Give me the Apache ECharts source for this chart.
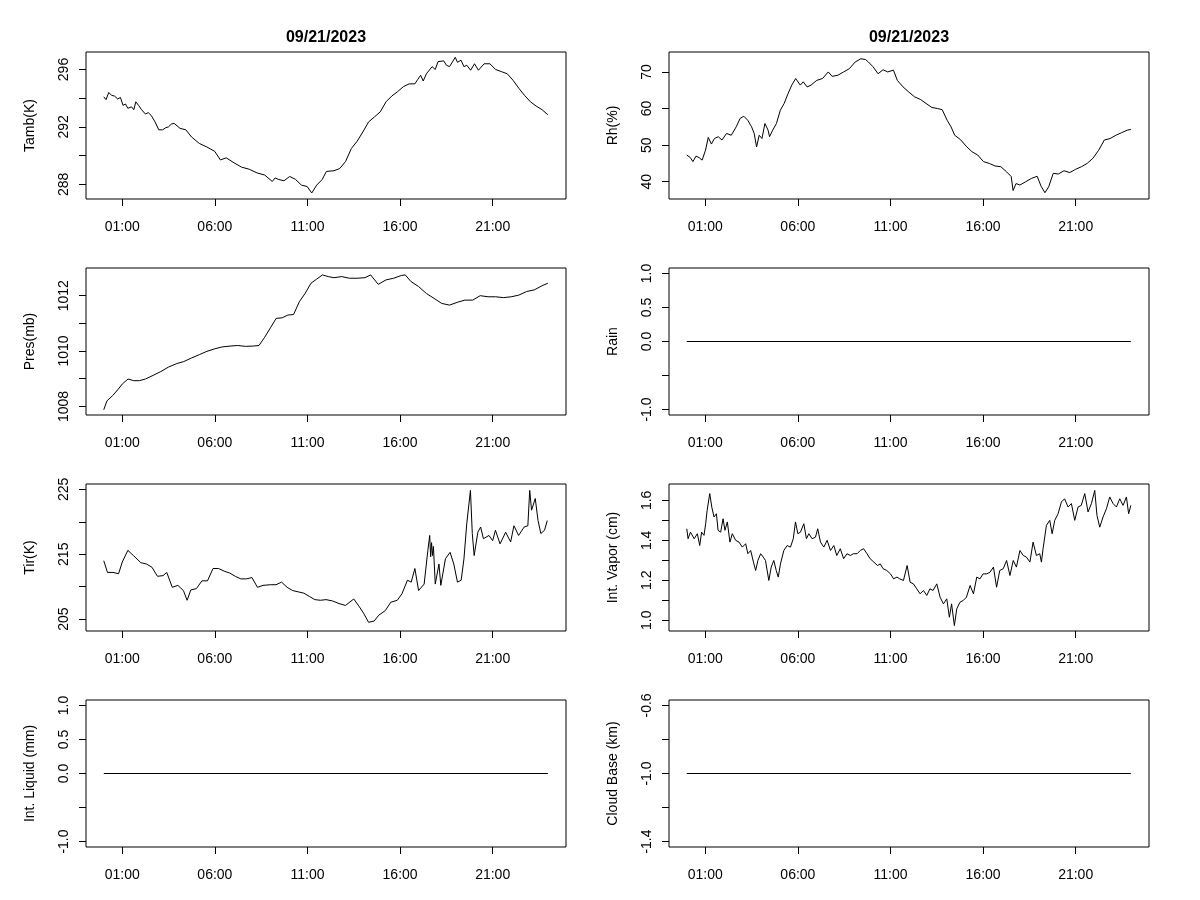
<!DOCTYPE html>
<html>
<head>
<meta charset="utf-8">
<script src="https://cdn.jsdelivr.net/npm/echarts@6/dist/echarts.min.js"></script>
<style>html,body{margin:0;padding:0;background:#fff}#c{width:1200px;height:900px}</style>
</head>
<body>
<div id="c"></div>
<script>
// ---------- data (time in hours since 00:00 on 09/21/2023) ----------
const dateLabel = '09/21/2023';
const hourTicks = [1, 6, 11, 16, 21];

const tambT = [0,0.12,0.27,0.42,0.58,0.75,0.9,1.04,1.17,1.3,1.5,1.62,1.73,1.88,2.04,2.25,2.4,2.56,2.77,2.97,3.18,3.35,3.49,3.65,3.8,4.12,4.43,4.74,5.16,5.57,5.99,6.3,6.61,7.03,7.44,7.86,8.27,8.69,9.1,9.25,9.42,9.73,10.04,10.35,10.67,10.98,11.23,11.5,11.8,12.02,12.43,12.74,13.06,13.37,13.68,13.99,14.3,14.62,14.93,15.24,15.55,15.86,16.17,16.49,16.8,16.95,17.11,17.25,17.42,17.73,17.9,18.05,18.36,18.5,18.67,18.98,19.1,19.29,19.45,19.6,19.81,20.02,20.23,20.54,20.85,21.16,21.48,21.79,22.1,22.41,22.72,23.04,23.35,23.67,23.98];
const tambV = [294.1,293.9,294.4,294.2,294.15,293.95,294.05,293.5,293.6,293.3,293.4,293.2,293.75,293.5,293.2,292.9,293.0,292.8,292.35,291.8,291.8,291.95,292.0,292.2,292.25,291.9,291.8,291.3,290.85,290.6,290.3,289.7,289.85,289.5,289.2,289.05,288.8,288.65,288.2,288.45,288.35,288.25,288.55,288.35,287.95,287.85,287.4,287.95,288.35,288.9,288.95,289.1,289.6,290.5,291.0,291.65,292.35,292.7,293.05,293.75,294.15,294.45,294.8,295.0,295.0,295.3,295.6,295.2,295.7,296.2,296.0,296.55,296.6,296.3,296.2,296.85,296.5,296.65,296.2,296.3,295.95,296.4,295.95,296.4,296.4,296.0,295.85,295.7,295.25,294.7,294.2,293.75,293.45,293.2,292.85];

const rhT = [0,0.19,0.33,0.5,0.66,0.83,1.01,1.16,1.33,1.49,1.7,1.9,2.15,2.4,2.67,2.88,3.08,3.29,3.5,3.64,3.77,3.91,4.06,4.22,4.39,4.47,4.64,4.84,5.05,5.26,5.47,5.67,5.88,5.98,6.13,6.29,6.5,6.71,7.02,7.33,7.64,7.85,8.16,8.47,8.78,9.09,9.4,9.65,9.81,10.06,10.33,10.6,10.85,11.16,11.37,11.68,11.99,12.3,12.61,12.92,13.23,13.54,13.79,14.06,14.27,14.47,14.78,15.09,15.4,15.71,16.02,16.34,16.65,16.96,17.27,17.52,17.62,17.78,17.99,18.3,18.61,18.92,19.13,19.34,19.54,19.79,20.06,20.37,20.68,21.0,21.31,21.62,21.93,22.24,22.55,22.86,23.17,23.48,23.79,23.98];
const rhV = [47.3,46.6,45.5,47.0,46.6,45.9,48.6,52.1,50.3,51.8,52.3,51.4,53.2,52.7,55.0,57.3,57.9,56.8,55.0,53.2,49.5,52.7,51.8,55.9,54.1,52.3,54.1,55.9,59.5,61.4,64.1,66.4,68.2,68.6,66.4,67.3,65.9,66.4,67.7,68.2,70.0,68.8,69.1,70.0,70.9,72.7,73.6,73.4,72.7,71.4,69.5,70.6,70.0,70.5,67.7,65.9,64.5,63.2,62.5,61.4,60.3,60.0,59.7,56.8,55.0,52.7,51.5,49.7,48.2,47.3,45.5,45.0,44.3,44.1,42.7,41.4,37.6,39.5,39.1,40.0,40.9,41.5,38.8,37.0,38.6,42.3,42.1,43.0,42.5,43.4,44.1,45.0,46.4,48.6,51.4,51.8,52.7,53.4,54.1,54.3];

const presT = [0,0.17,0.48,0.79,1.0,1.31,1.62,1.93,2.25,2.66,3.08,3.49,3.91,4.32,4.74,5.16,5.57,5.99,6.4,6.82,7.23,7.65,8.07,8.38,8.69,9.0,9.31,9.63,9.94,10.25,10.56,10.87,11.19,11.5,11.81,12.12,12.43,12.85,13.26,13.68,14.1,14.41,14.82,15.24,15.65,16.07,16.28,16.59,17.0,17.42,17.84,18.25,18.67,19.09,19.5,19.92,20.33,20.75,21.16,21.58,22.0,22.41,22.83,23.25,23.67,23.98];
const presV = [1007.88,1008.2,1008.39,1008.63,1008.81,1008.99,1008.93,1008.93,1008.99,1009.12,1009.26,1009.42,1009.54,1009.62,1009.75,1009.87,1009.99,1010.08,1010.15,1010.18,1010.2,1010.17,1010.18,1010.2,1010.5,1010.84,1011.18,1011.2,1011.3,1011.32,1011.78,1012.08,1012.45,1012.6,1012.75,1012.69,1012.65,1012.69,1012.63,1012.63,1012.65,1012.75,1012.41,1012.57,1012.63,1012.73,1012.75,1012.51,1012.33,1012.08,1011.9,1011.72,1011.66,1011.76,1011.84,1011.84,1012.0,1011.96,1011.96,1011.93,1011.96,1012.02,1012.15,1012.21,1012.36,1012.45];

const rainT = [0, 23.98];
const rainV = [0, 0];

const tirT = [0,0.2,0.5,0.8,1.0,1.3,1.6,2.0,2.3,2.6,2.9,3.2,3.4,3.7,4.0,4.3,4.5,4.7,5.0,5.3,5.6,5.9,6.2,6.5,6.8,7.1,7.4,7.7,8.0,8.3,8.6,9.0,9.3,9.6,9.9,10.2,10.5,10.8,11.1,11.4,11.7,12.0,12.35,12.7,13.05,13.5,13.8,14.05,14.3,14.6,14.85,15.2,15.5,15.85,16.1,16.4,16.6,16.8,17.0,17.3,17.5,17.6,17.65,17.7,17.75,17.8,17.9,18.1,18.2,18.45,18.7,18.9,19.1,19.3,19.45,19.6,19.8,19.9,20.0,20.2,20.35,20.5,20.8,21.0,21.15,21.4,21.7,21.97,22.15,22.4,22.7,22.9,23.0,23.1,23.3,23.45,23.6,23.8,23.95];
const tirV = [214.0,212.2,212.2,212.0,213.8,215.6,214.8,213.7,213.5,213.0,211.6,211.7,212.2,209.9,210.2,209.4,207.9,209.5,209.7,210.9,210.9,212.8,212.8,212.4,212.1,211.6,211.2,211.2,211.4,209.9,210.2,210.3,210.3,210.7,209.9,209.4,209.2,209.0,208.5,208.0,207.9,208.0,207.8,207.4,207.1,208.1,206.9,205.8,204.5,204.7,205.6,206.3,207.6,207.9,208.9,211.0,210.7,212.8,209.4,210.4,215.6,217.9,214.6,216.8,214.8,216.2,210.4,213.5,210.2,214.3,215.3,213.5,210.7,211.0,214.3,219.7,224.85,218.2,214.8,218.4,219.2,217.4,217.9,217.1,218.7,216.6,218.4,216.9,219.4,217.9,219.2,219.4,224.85,221.8,223.6,220.2,218.2,218.7,220.2];

const vapT = [0,0.07,0.2,0.4,0.57,0.7,0.8,0.93,1.02,1.1,1.24,1.35,1.47,1.6,1.69,1.83,1.96,2.06,2.19,2.33,2.46,2.64,2.82,3.0,3.18,3.3,3.45,3.6,3.72,3.84,3.99,4.13,4.25,4.43,4.56,4.7,4.83,4.94,5.06,5.24,5.42,5.6,5.75,5.87,6.0,6.14,6.32,6.46,6.59,6.77,6.95,7.07,7.22,7.4,7.58,7.76,7.94,8.1,8.29,8.47,8.65,8.83,9.0,9.2,9.37,9.55,9.73,9.9,10.1,10.3,10.45,10.6,10.8,11.0,11.17,11.35,11.5,11.7,11.9,12.06,12.24,12.42,12.6,12.78,12.96,13.13,13.3,13.5,13.68,13.86,14.04,14.18,14.3,14.45,14.58,14.75,14.93,15.1,15.3,15.48,15.66,15.83,16.0,16.2,16.38,16.56,16.73,16.9,17.09,17.27,17.45,17.63,17.8,17.99,18.17,18.34,18.53,18.7,18.88,19.06,19.15,19.24,19.42,19.6,19.73,19.87,20.05,20.23,20.4,20.59,20.77,20.95,21.13,21.3,21.49,21.67,21.85,22.03,22.15,22.3,22.48,22.66,22.84,23.02,23.2,23.38,23.56,23.74,23.86,23.98];
const vapV = [1.458,1.408,1.441,1.408,1.433,1.374,1.441,1.425,1.483,1.550,1.634,1.567,1.517,1.533,1.450,1.441,1.508,1.450,1.492,1.391,1.433,1.400,1.391,1.366,1.383,1.333,1.349,1.291,1.249,1.299,1.333,1.316,1.299,1.199,1.266,1.299,1.249,1.216,1.282,1.349,1.374,1.366,1.408,1.492,1.433,1.441,1.483,1.408,1.433,1.408,1.416,1.458,1.391,1.366,1.400,1.349,1.374,1.324,1.358,1.308,1.333,1.324,1.333,1.333,1.349,1.358,1.333,1.308,1.291,1.274,1.282,1.258,1.249,1.232,1.207,1.216,1.207,1.199,1.274,1.190,1.182,1.157,1.132,1.149,1.124,1.157,1.149,1.182,1.115,1.082,1.107,1.015,1.082,0.973,1.057,1.090,1.099,1.115,1.174,1.132,1.216,1.207,1.232,1.232,1.241,1.266,1.165,1.249,1.258,1.299,1.224,1.299,1.266,1.349,1.324,1.316,1.291,1.391,1.324,1.333,1.291,1.358,1.475,1.500,1.433,1.500,1.533,1.592,1.608,1.567,1.584,1.500,1.567,1.575,1.634,1.542,1.584,1.650,1.525,1.466,1.517,1.558,1.617,1.584,1.567,1.608,1.575,1.617,1.533,1.575];

const liqT = [0, 23.98];
const liqV = [0, 0];

const cloudT = [0, 23.98];
const cloudV = [-1, -1];

// y-axis ticks and labelled ticks for each panel
const tambTicks = [288,290,292,294,296],   tambLabels = [288,292,296];
const rhTicks = [40,50,60,70],              rhLabels = [40,50,60,70];
const presTicks = [1008,1009,1010,1011,1012], presLabels = [1008,1010,1012];
const rainTicks = [-1,-0.5,0,0.5,1],        rainLabels = [-1,0,0.5,1];
const tirTicks = [205,210,215,220,225],     tirLabels = [205,215,225];
const vapTicks = [1.0,1.1,1.2,1.3,1.4,1.5,1.6], vapLabels = [1.0,1.2,1.4,1.6];
const liqTicks = [-1,-0.5,0,0.5,1],         liqLabels = [-1,0,0.5,1];
const cloudTicks = [-1.4,-1.2,-1.0,-0.8,-0.6], cloudLabels = [-1.4,-1.0,-0.6];

// ---------- layout ----------
const FONT = '"Liberation Sans", Arial, sans-serif';
const colLeft = [86, 669];
const rowTop = [52, 268, 484, 700];
const W = 480, H = 147;

const panels = [
  {col:0,row:0,name:'Tamb(K)',T:tambT,V:tambV,min:286.98,max:297.22,ticks:tambTicks,labels:tambLabels,dec:0},
  {col:1,row:0,name:'Rh(%)',T:rhT,V:rhV,min:35.28,max:75.45,ticks:rhTicks,labels:rhLabels,dec:0},
  {col:0,row:1,name:'Pres(mb)',T:presT,V:presV,min:1007.69,max:1013.0,ticks:presTicks,labels:presLabels,dec:0},
  {col:1,row:1,name:'Rain',T:rainT,V:rainV,min:-1.08,max:1.08,ticks:rainTicks,labels:rainLabels,dec:1},
  {col:0,row:2,name:'Tir(K)',T:tirT,V:tirV,min:203.16,max:225.84,ticks:tirTicks,labels:tirLabels,dec:0},
  {col:1,row:2,name:'Int. Vapor (cm)',T:vapT,V:vapV,min:0.946,max:1.682,ticks:vapTicks,labels:vapLabels,dec:1},
  {col:0,row:3,name:'Int. Liquid (mm)',T:liqT,V:liqV,min:-1.08,max:1.08,ticks:liqTicks,labels:liqLabels,dec:1},
  {col:1,row:3,name:'Cloud Base (km)',T:cloudT,V:cloudV,min:-1.432,max:-0.568,ticks:cloudTicks,labels:cloudLabels,dec:1}
];

const grids = [], xAxes = [], yAxes = [], series = [];
panels.forEach((p, i) => {
  grids.push({left: colLeft[p.col], top: rowTop[p.row], width: W, height: H,
    show: true, borderColor: '#000', borderWidth: 1, backgroundColor: 'transparent', containLabel: false});
  xAxes.push({gridIndex: i, type: 'value', min: -0.96, max: 24.96, position: 'bottom',
    axisLine: {show: false, onZero: false}, splitLine: {show: false},
    axisTick: {show: true, inside: false, length: 7, lineStyle: {color: '#000', width: 1}, customValues: hourTicks},
    axisLabel: {show: true, customValues: hourTicks, color: '#000', fontSize: 14, fontFamily: FONT, margin: 21,
      formatter: v => (v < 10 ? '0' : '') + v + ':00'}
  });
  yAxes.push({gridIndex: i, type: 'value', min: p.min, max: p.max, position: 'left',
    name: p.name, nameLocation: 'middle', nameRotate: 90, nameGap: 49,
    nameTextStyle: {color: '#000', fontSize: 14, fontFamily: FONT},
    axisLine: {show: false, onZero: false}, splitLine: {show: false},
    axisTick: {show: true, inside: false, length: 7, lineStyle: {color: '#000', width: 1}, customValues: p.ticks},
    axisLabel: {show: true, customValues: p.labels, rotate: 90, color: '#000', fontSize: 14, fontFamily: FONT, margin: 15,
      formatter: v => Number(v).toFixed(p.dec)}
  });
  series.push({type: 'line', xAxisIndex: i, yAxisIndex: i,
    data: p.T.map((t, k) => [t, p.V[k]]),
    symbol: 'none', showSymbol: false, lineStyle: {color: '#000', width: 1}, silent: true, animation: false});
});

const chart = echarts.init(document.getElementById('c'), null, {renderer: 'canvas'});
chart.setOption({
  backgroundColor: '#fff',
  animation: false,
  grid: grids, xAxis: xAxes, yAxis: yAxes, series: series,
  graphic: [
    {type: 'text', x: colLeft[0] + W / 2, y: 38, style: {text: dateLabel, fill: '#000', fontSize: 16, fontWeight: 'bold', fontFamily: FONT, align: 'center', verticalAlign: 'middle'}},
    {type: 'text', x: colLeft[1] + W / 2, y: 38, style: {text: dateLabel, fill: '#000', fontSize: 16, fontWeight: 'bold', fontFamily: FONT, align: 'center', verticalAlign: 'middle'}}
  ]
});
</script>
</body>
</html>
